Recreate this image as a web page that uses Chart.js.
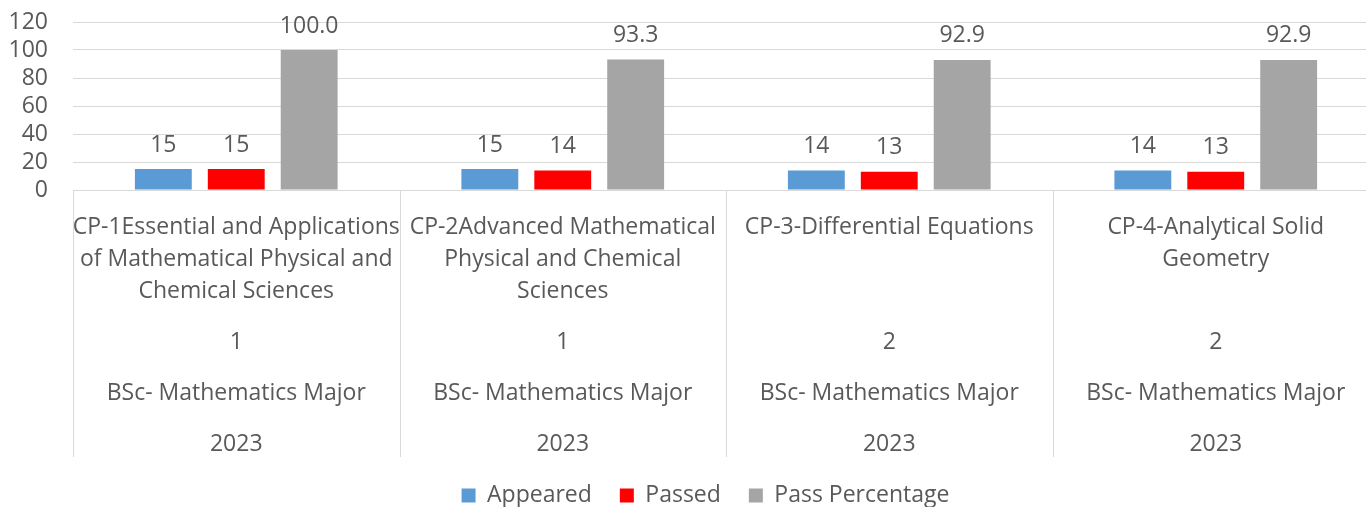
<!DOCTYPE html>
<html>
<head>
<meta charset="utf-8">
<script src="https://cdn.jsdelivr.net/npm/chart.js@4.4.1/dist/chart.umd.min.js"></script>
<style>
  html, body { margin: 0; padding: 0; background: #fff; overflow: hidden; }
  #wrap { width: 1410px; height: 517px; }
</style>
</head>
<body>
<div id="wrap"><canvas id="chart"></canvas></div>
<script>
// category levels (top to bottom under the axis)
const courses = [
    ['CP-1Essential and Applications', 'of Mathematical Physical and', 'Chemical Sciences'],
    ['CP-2Advanced Mathematical', 'Physical and Chemical', 'Sciences'],
    ['CP-3-Differential Equations'],
    ['CP-4-Analytical Solid', 'Geometry']
];
const semesters = ['1', '1', '2', '2'];
const programmes = ['BSc- Mathematics Major', 'BSc- Mathematics Major', 'BSc- Mathematics Major', 'BSc- Mathematics Major'];
const years = ['2023', '2023', '2023', '2023'];

// series
const appeared = [15, 15, 14, 14];
const passed = [15, 14, 13, 13];
const passPercentage = [100.0, 93.3, 92.9, 92.9];

const yTicks = [0, 20, 40, 60, 80, 100, 120];

const FONT = '"Open Sans", "Noto Sans", sans-serif';
const FONT_SIZE = 23;
const TEXT = '#595959';
const LINE = '#d9d9d9';

// value labels above each bar
const valueLabels = {
    id: 'valueLabels',
    afterDatasetsDraw(chart) {
        const ctx = chart.ctx;
        ctx.save();
        ctx.font = FONT_SIZE + 'px ' + FONT;
        ctx.fillStyle = TEXT;
        ctx.textAlign = 'center';
        ctx.textBaseline = 'middle';
        chart.data.datasets.forEach((ds, i) => {
            const meta = chart.getDatasetMeta(i);
            meta.data.forEach((bar, j) => {
                const v = ds.data[j];
                const txt = i === 2 ? v.toFixed(1) : String(v);
                ctx.fillText(txt, bar.x, bar.y - 24);
            });
        });
        ctx.restore();
    }
};

// multi level category axis
const groupAxis = {
    id: 'groupAxis',
    afterLayout(chart) {
        // legend is centred on the whole chart in the original, nudge it over
        chart.legend.left += 16;
        chart.legend.right += 16;
    },
    afterDraw(chart) {
        const ctx = chart.ctx;
        const x = chart.scales.x;
        const top = x.top;
        const bottom = top + 267;
        const n = courses.length;
        const w = (x.right - x.left) / n;

        ctx.save();
        ctx.strokeStyle = LINE;
        ctx.lineWidth = 1;
        for (let i = 0; i <= n; i++) {
            const px = Math.round(x.left + i * w) + 0.5;
            ctx.beginPath();
            ctx.moveTo(px, top);
            ctx.lineTo(px, bottom);
            ctx.stroke();
        }

        ctx.font = FONT_SIZE + 'px ' + FONT;
        ctx.fillStyle = TEXT;
        ctx.textAlign = 'center';
        ctx.textBaseline = 'middle';
        for (let i = 0; i < n; i++) {
            const cx = x.getPixelForValue(i);
            courses[i].forEach((line, k) => ctx.fillText(line, cx, top + 37 + k * 32));
            ctx.fillText(semesters[i], cx, top + 152);
            ctx.fillText(programmes[i], cx, top + 203);
            ctx.fillText(years[i], cx, top + 254);
        }
        ctx.restore();
    }
};

new Chart(document.getElementById('chart'), {
    type: 'bar',
    data: {
        labels: courses.map(c => c.join(' ')),
        datasets: [
            { label: 'Appeared', data: appeared, backgroundColor: '#5b9bd5' },
            { label: 'Passed', data: passed, backgroundColor: '#ff0000' },
            { label: 'Pass Percentage', data: passPercentage, backgroundColor: '#a5a5a5' }
        ]
    },
    options: {
        responsive: true,
        maintainAspectRatio: false,
        animation: false,
        categoryPercentage: 0.67,
        barPercentage: 0.78,
        layout: { padding: { top: 22, left: 0, right: 31, bottom: 0 } },
        plugins: {
            tooltip: { enabled: false },
            legend: {
                position: 'bottom',
                labels: {
                    boxWidth: 14,
                    boxHeight: 14,
                    padding: 28,
                    color: TEXT,
                    font: { family: FONT, size: FONT_SIZE }
                }
            }
        },
        scales: {
            x: {
                grid: { display: false },
                border: { display: true, color: LINE },
                ticks: { display: false },
                afterFit(scale) { scale.height = 266; }
            },
            y: {
                min: yTicks[0],
                max: yTicks[yTicks.length - 1],
                afterBuildTicks(scale) { scale.ticks = yTicks.map(v => ({ value: v })); },
                afterFit(scale) {
                    scale.width = 73;
                    scale.paddingTop = 0;
                    scale.paddingBottom = 0;
                },
                grid: { color: LINE, drawTicks: false },
                border: { display: false },
                ticks: {
                    autoSkip: false,
                    padding: 25,
                    color: TEXT,
                    font: { family: FONT, size: FONT_SIZE }
                }
            }
        }
    },
    plugins: [valueLabels, groupAxis]
});
</script>
</body>
</html>
